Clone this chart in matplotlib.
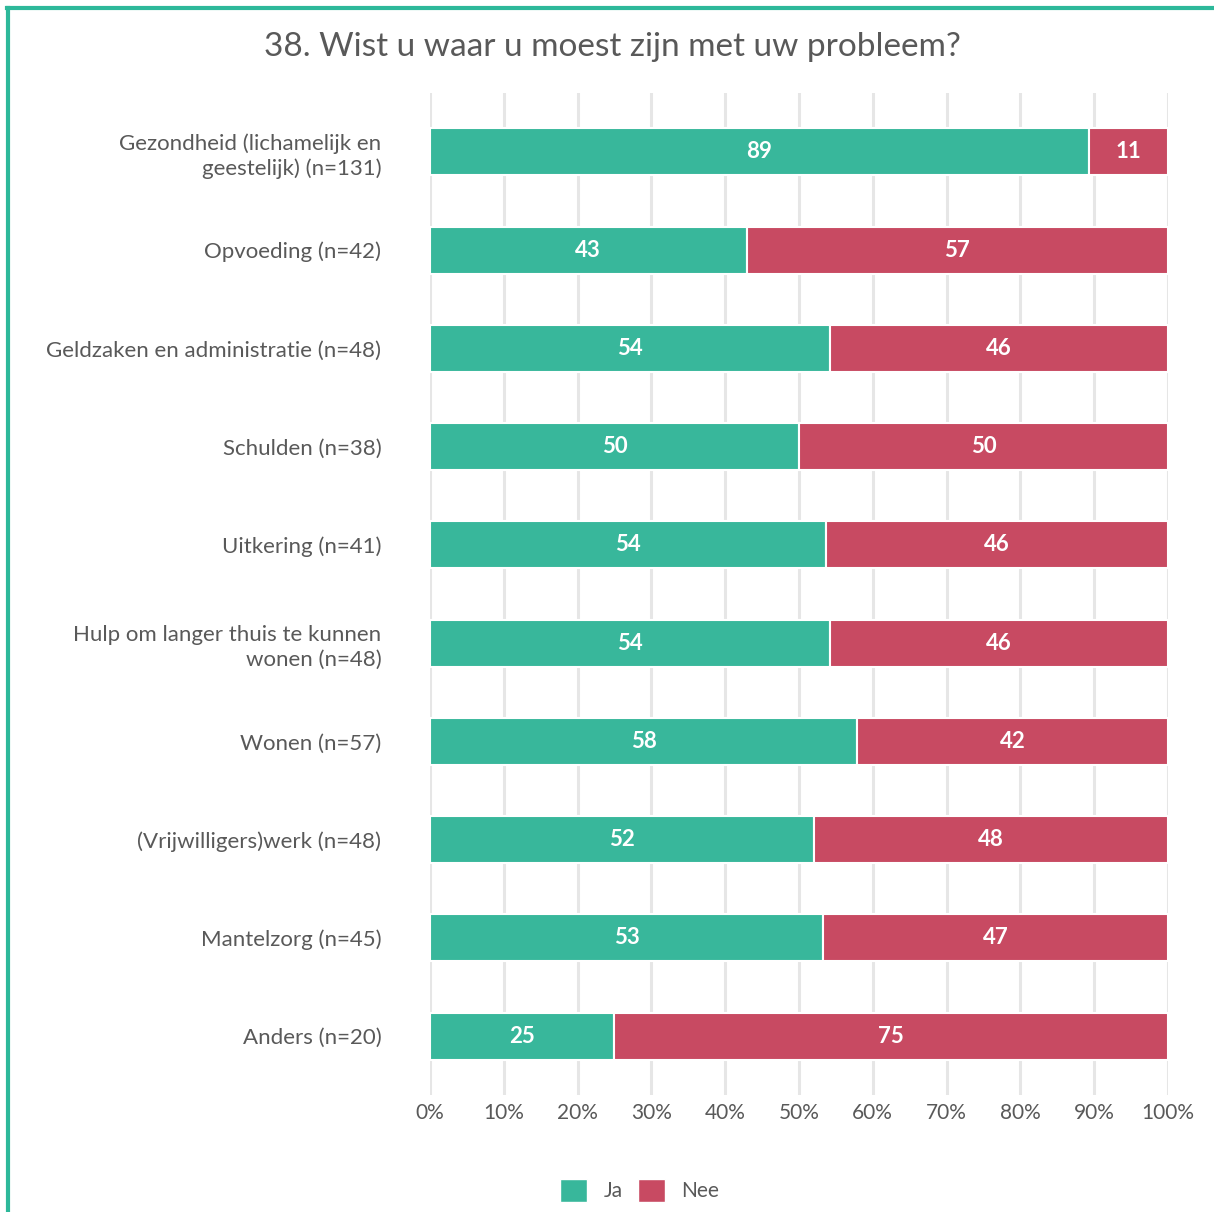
import matplotlib.pyplot as plt
from matplotlib.patches import Patch
from matplotlib.lines import Line2D
import numpy as np

# 数据
categories = [
    "Gezondheid (lichamelijk en\ngeestelijk) (n=131)",
    "Opvoeding (n=42)",
    "Geldzaken en administratie (n=48)",
    "Schulden (n=38)",
    "Uitkering (n=41)",
    "Hulp om langer thuis te kunnen\nwonen (n=48)",
    "Wonen (n=57)",
    "(Vrijwilligers)werk (n=48)",
    "Mantelzorg (n=45)",
    "Anders (n=20)",
]
ja = [89.3, 42.9, 54.2, 50.0, 53.7, 54.2, 57.9, 52.1, 53.3, 25.0]
nee = [10.7, 57.1, 45.8, 50.0, 46.3, 45.8, 42.1, 47.9, 46.7, 75.0]
xticks = [0, 10, 20, 30, 40, 50, 60, 70, 80, 90, 100]

green = "#38B79B"
red = "#C84A62"
txt = "#595959"

plt.rcParams["font.family"] = ["Lato", "DejaVu Sans"]

fig = plt.figure(figsize=(12.14, 12.12), dpi=100)
ax = fig.add_axes([0.3542, 0.0965, 0.6079, 0.8268])

y = np.arange(len(categories))
ax.barh(y, ja, height=0.48, color=green, edgecolor="white", linewidth=1.5, zorder=2)
ax.barh(y, nee, left=ja, height=0.48, color=red, edgecolor="white", linewidth=1.5, zorder=2)

# 柱子中间的数值
for i in range(len(categories)):
    ax.text(ja[i] / 2, y[i], f"{ja[i]:.0f}", ha="center", va="center",
            color="white", fontsize=16, fontweight="bold", zorder=3)
    ax.text(ja[i] + nee[i] / 2, y[i], f"{nee[i]:.0f}", ha="center", va="center",
            color="white", fontsize=16, fontweight="bold", zorder=3)

ax.set_ylim(len(categories) - 0.4, -0.6)
ax.set_xlim(0, 100)
ax.set_yticks(y)
ax.set_yticklabels(categories, fontsize=16, color=txt, linespacing=1.3)
ax.set_xticks(xticks)
ax.set_xticklabels([f"{v}%" for v in xticks], fontsize=15, color=txt)
ax.tick_params(length=0)
ax.tick_params(axis="y", pad=35)
ax.tick_params(axis="x", pad=6)
ax.grid(axis="x", color="#E6E6E6", linewidth=2.2, zorder=0)
for s in ax.spines.values():
    s.set_visible(False)

fig.text(0.5045, 0.961, "38. Wist u waar u moest zijn met uw probleem?",
         ha="center", va="center", fontsize=24, color=txt)

handles = [Patch(facecolor=green, edgecolor="white"), Patch(facecolor=red, edgecolor="white")]
fig.legend(handles, ["Ja", "Nee"], loc="center", bbox_to_anchor=(0.527, 0.018),
           ncol=2, frameon=False, fontsize=15, labelcolor=txt,
           handlelength=1.3, handleheight=1.3, columnspacing=0.7, handletextpad=0.8)

# 外框线（上边和左边）
fig.add_artist(Line2D([0.0055, 1.0], [0.9935, 0.9935], color="#2DB89A", linewidth=3,
                      transform=fig.transFigure))
fig.add_artist(Line2D([0.0068, 0.0068], [0.0, 0.9935], color="#2DB89A", linewidth=3,
                      transform=fig.transFigure))

fig.savefig("out.png", dpi=100)
